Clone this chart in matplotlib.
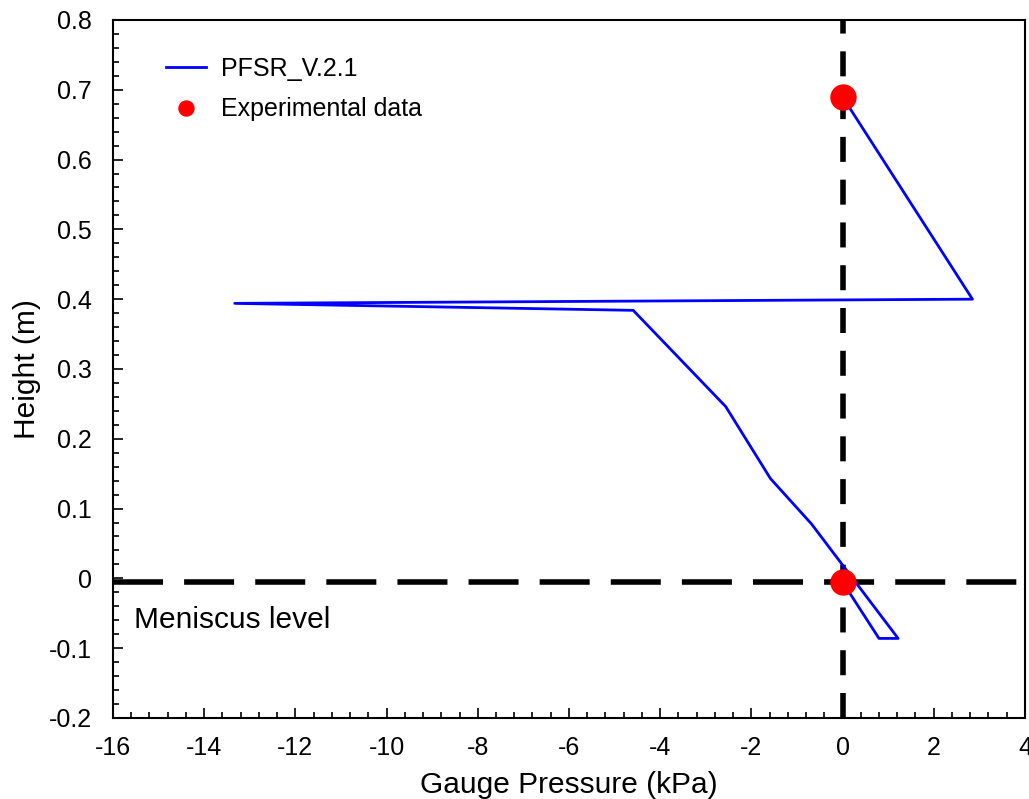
import matplotlib
matplotlib.use('Agg')
import matplotlib.pyplot as plt
from matplotlib.ticker import MultipleLocator, FuncFormatter

plt.rcParams['font.family'] = ['Liberation Sans', 'DejaVu Sans']

# PFSR_V.2.1 simulated pressure profile (kPa vs m)
sim_pressure = [0.0, 2.85, -13.33, -4.59, -2.56, -1.58, -0.68, 1.22, 0.80, 0.0]
sim_height = [0.69, 0.400, 0.394, 0.384, 0.246, 0.143, 0.078, -0.086, -0.086, -0.005]

# experimental points
exp_pressure = [0.0, 0.0]
exp_height = [0.69, -0.005]

meniscus_level = -0.005


def fmt(v, pos):
    if abs(v) < 1e-9:
        return '0'
    return f'{v:g}'


fig = plt.figure(figsize=(10.29, 7.99), dpi=100)
ax = fig.add_axes([0.1098, 0.1014, 0.8862, 0.8736])

ax.axvline(0, color='black', lw=4, dashes=(4.5, 3.2), zorder=1)
ax.axhline(meniscus_level, color='black', lw=4, dashes=(9, 3.8), zorder=1)

ax.plot(sim_pressure, sim_height, color='blue', lw=2, label='PFSR_V.2.1', zorder=2)
ax.plot(exp_pressure, exp_height, 'o', color='red', ms=18, label='Experimental data', zorder=3)

ax.set_xlim(-16, 4)
ax.set_ylim(-0.2, 0.8)
ax.xaxis.set_major_locator(MultipleLocator(2))
ax.xaxis.set_minor_locator(MultipleLocator(0.4))
ax.yaxis.set_major_locator(MultipleLocator(0.1))
ax.yaxis.set_minor_locator(MultipleLocator(0.02))
ax.xaxis.set_major_formatter(FuncFormatter(fmt))
ax.yaxis.set_major_formatter(FuncFormatter(fmt))
ax.tick_params(which='both', direction='in', labelsize=18, width=1.2)
ax.tick_params(which='major', length=7)
ax.tick_params(axis='y', which='major', pad=15)
ax.tick_params(axis='x', which='major', pad=13)
ax.tick_params(which='minor', length=4)
for s in ax.spines.values():
    s.set_linewidth(1.5)

ax.set_xlabel('Gauge Pressure (kPa)', fontsize=21.5, labelpad=8)
ax.set_ylabel('Height (m)', fontsize=21.5, labelpad=6)

ax.text(-15.55, -0.06, 'Meniscus level', fontsize=21.5, va='center', ha='left')

leg = ax.legend(loc='upper left', bbox_to_anchor=(0.034, 0.979), frameon=False,
                fontsize=18, handlelength=1.6, markerscale=0.6, labelspacing=0.65,
                handletextpad=0.6)

fig.savefig('out.png', dpi=100)
